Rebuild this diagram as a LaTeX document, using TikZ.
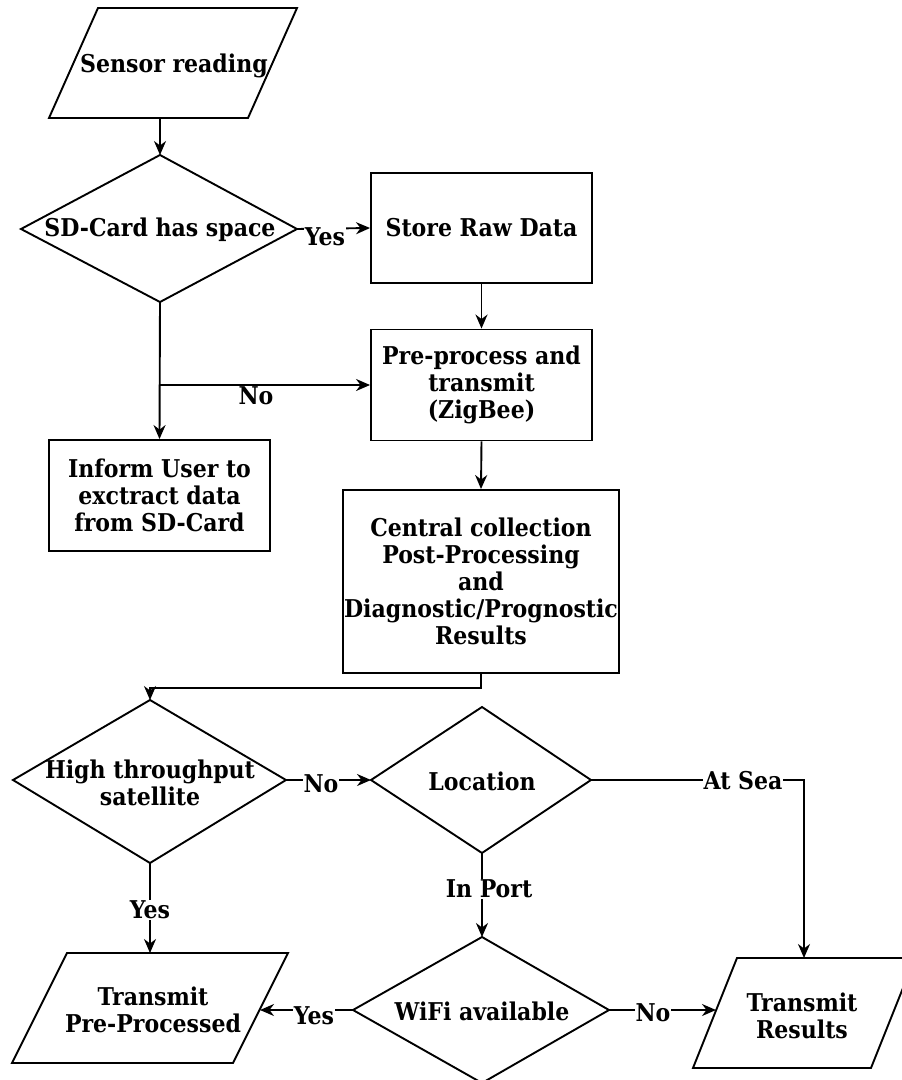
\documentclass[tikz,border=0pt]{standalone}
\usepackage{fontspec}
\setmainfont{DejaVu Serif Condensed}
\usetikzlibrary{arrows.meta}

\begin{document}
\begin{tikzpicture}[x=1pt, y=-1pt, line width=1.9pt, line join=miter,
  txt/.style={font=\fontsize{24.5}{27}\selectfont\bfseries, align=center, inner sep=0pt},
  procbox/.style={draw, font=\fontsize{24.5}{27}\selectfont\bfseries, align=center, inner sep=0pt},
  lbl/.style={font=\fontsize{24.5}{25}\selectfont\bfseries, fill=white, inner sep=1pt},
  arr/.style={-{Stealth[length=14pt, width=12pt, inset=4.5pt]}}]

\useasboundingbox (0,0) rectangle (902,1080);

% ---- input: sensor reading
\coordinate (sr-a) at (98,8);
\coordinate (sr-b) at (297,8);
\coordinate (sr-c) at (248,118);
\coordinate (sr-d) at (49,118);
\coordinate (sr-s) at (160,118);
\draw (sr-a) -- (sr-b) -- (sr-c) -- (sr-d) -- cycle;
\node[txt] (sr) at (174,66) {Sensor reading};

% ---- decision: SD card space
\coordinate (sd-n) at (160,155);
\coordinate (sd-w) at (21,229);
\coordinate (sd-e) at (297,229);
\coordinate (sd-s) at (160,302);
\draw (sd-n) -- (sd-e) -- (sd-s) -- (sd-w) -- cycle;
\node[txt] (sd) at (160,230) {SD-Card has space};

% ---- process boxes
\node[procbox, minimum width=221pt, minimum height=110pt] (store) at (481.5,228) {Store Raw Data};
\node[procbox, minimum width=221pt, minimum height=111pt] (pre) at (481.5,385) {Pre-process and\\transmit\\(ZigBee)};
\node[procbox, minimum width=221pt, minimum height=111pt] (inform) at (159.5,495.5) {Inform User to\\exctract data\\from SD-Card};
\node[procbox, minimum width=276pt, minimum height=183pt] (central) at (481,581.5) {Central collection\\Post-Processing\\and\\Diagnostic/Prognostic\\Results};

% ---- decision: high throughput satellite
\coordinate (ht-n) at (150,700);
\coordinate (ht-w) at (13,780);
\coordinate (ht-e) at (286,780);
\coordinate (ht-s) at (150,863);
\draw (ht-n) -- (ht-e) -- (ht-s) -- (ht-w) -- cycle;
\node[txt] (ht) at (150,783) {High throughput\\satellite};

% ---- decision: location
\coordinate (loc-n) at (482,707);
\coordinate (loc-w) at (371,780);
\coordinate (loc-e) at (591,780);
\coordinate (loc-s) at (482,853);
\draw (loc-n) -- (loc-e) -- (loc-s) -- (loc-w) -- cycle;
\node[txt] (loc) at (482,781) {Location};

% ---- decision: wifi
\coordinate (wf-n) at (482,937);
\coordinate (wf-w) at (353,1010);
\coordinate (wf-e) at (609,1010);
\coordinate (wf-s) at (482,1083);
\draw (wf-n) -- (wf-e) -- (wf-s) -- (wf-w) -- cycle;
\node[txt] (wf) at (482,1011) {WiFi available};

% ---- output: transmit pre-processed
\coordinate (tp-a) at (67,953);
\coordinate (tp-b) at (288,953);
\coordinate (tp-c) at (233,1063);
\coordinate (tp-d) at (12,1063);
\coordinate (tp-n) at (150,953);
\coordinate (tp-e) at (260,1010);
\draw (tp-a) -- (tp-b) -- (tp-c) -- (tp-d) -- cycle;
\node[txt] (tp) at (153,1010) {Transmit\\Pre-Processed};

% ---- output: transmit results
\coordinate (tr-a) at (737,958);
\coordinate (tr-b) at (915,958);
\coordinate (tr-c) at (871,1068);
\coordinate (tr-d) at (693,1068);
\coordinate (tr-n) at (804,958);
\coordinate (tr-w) at (716,1010);
\draw (tr-a) -- (tr-b) -- (tr-c) -- (tr-d) -- cycle;
\node[txt] (tr) at (802,1016) {Transmit\\Results};

% ---- connectors
\coordinate (sd-branch) at (160,385);
\coordinate (ht-in) at (150,688);
\coordinate (sea-corner) at (804,780);

\draw[arr] (sr-s) -- (sd-n);
\draw[arr] (sd-e) -- (store.west);
\draw[arr] (sd-s) -- (inform.north);
\draw[arr] (sd-branch) -- (pre.west);
\draw[arr] (store.south) -- (pre.north);
\draw[arr] (pre.south) -- (central.north);
\draw[arr] (central.south) |- (ht-in) -- (ht-n);
\draw[arr] (ht-e) -- (loc-w);
\draw[arr] (loc-e) -- (sea-corner) -- (tr-n);
\draw[arr] (loc-s) -- (wf-n);
\draw[arr] (ht-s) -- (tp-n);
\draw[arr] (wf-w) -- (tp-e);
\draw[arr] (wf-e) -- (tr-w);

% ---- connector labels
\node[lbl] (l-yes-store) at (325,237) {Yes};
\node[lbl] (l-no-pre) at (256,396) {No};
\node[lbl] (l-no-loc) at (321,784) {No};
\node[lbl] (l-sea) at (743,781) {At Sea};
\node[lbl] (l-port) at (489,889) {In Port};
\node[lbl] (l-yes-sat) at (150,910) {Yes};
\node[lbl] (l-yes-wifi) at (314,1016) {Yes};
\node[lbl] (l-no-wifi) at (653,1013) {No};

\end{tikzpicture}
\end{document}
